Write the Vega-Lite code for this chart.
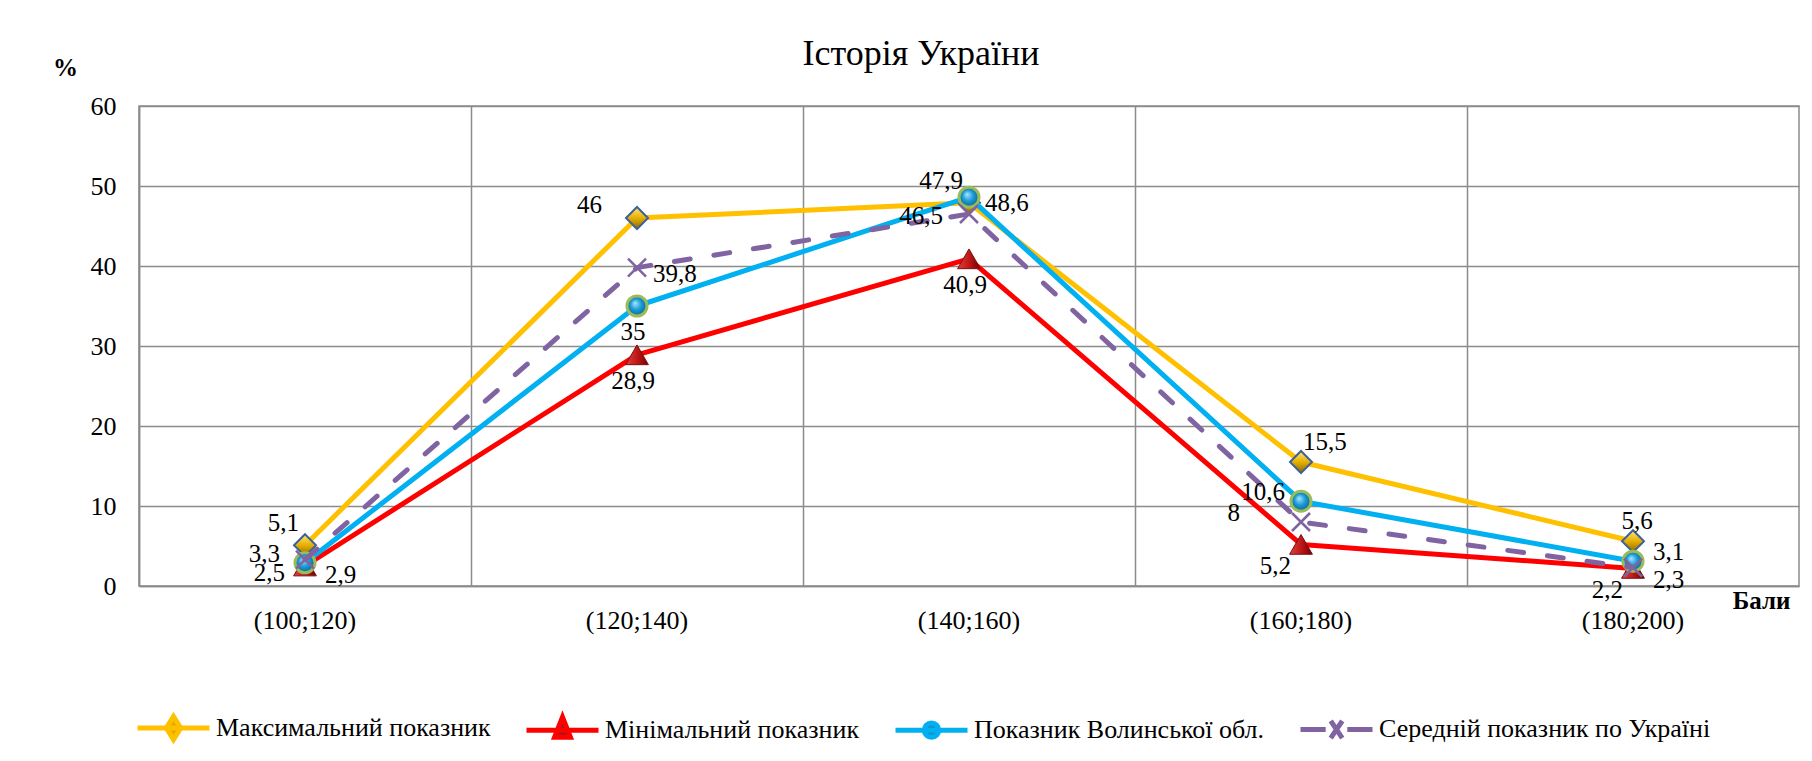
{
  "$schema": "https://vega.github.io/schema/vega-lite/v6.json",
  "width": 1660,
  "height": 480,
  "autosize": {"type": "none"},
  "padding": {"left": 139, "top": 106, "right": 13, "bottom": 175},
  "background": "white",
  "title": {"text": "Історія України", "font": "Liberation Serif", "fontSize": 36, "fontWeight": "normal", "color": "black", "anchor": "middle", "frame": "group", "dx": -48, "baseline": "alphabetic", "offset": 0, "dy": 46},
  "config": {
    "locale": {"number": {"decimal": ",", "thousands": " ", "grouping": [3], "currency": ["", ""]}},
    "view": {"stroke": "#8C8C8C", "strokeWidth": 1.5},
    "axis": {"gridColor": "#8C8C8C", "gridWidth": 1.5, "gridOpacity": 1, "domainColor": "#8C8C8C", "domainWidth": 1.5, "ticks": false, "labelColor": "black", "labelFont": "Liberation Serif", "labelFontSize": 26, "titleFont": "Liberation Serif", "titleFontSize": 25, "titleFontWeight": "bold", "titleColor": "black"},
    "legend": {"labelFont": "Liberation Serif", "labelFontSize": 26, "labelColor": "black", "labelLimit": 600}
  },
  "data": {"values": [
    {"cat": "(100;120)", "series": "Максимальний показник", "v": 5.1},
    {"cat": "(120;140)", "series": "Максимальний показник", "v": 46},
    {"cat": "(140;160)", "series": "Максимальний показник", "v": 47.9},
    {"cat": "(160;180)", "series": "Максимальний показник", "v": 15.5},
    {"cat": "(180;200)", "series": "Максимальний показник", "v": 5.6},
    {"cat": "(100;120)", "series": "Мінімальний показник", "v": 2.5},
    {"cat": "(120;140)", "series": "Мінімальний показник", "v": 28.9},
    {"cat": "(140;160)", "series": "Мінімальний показник", "v": 40.9},
    {"cat": "(160;180)", "series": "Мінімальний показник", "v": 5.2},
    {"cat": "(180;200)", "series": "Мінімальний показник", "v": 2.2},
    {"cat": "(100;120)", "series": "Показник Волинської обл.", "v": 2.9},
    {"cat": "(120;140)", "series": "Показник Волинської обл.", "v": 35},
    {"cat": "(140;160)", "series": "Показник Волинської обл.", "v": 48.6},
    {"cat": "(160;180)", "series": "Показник Волинської обл.", "v": 10.6},
    {"cat": "(180;200)", "series": "Показник Волинської обл.", "v": 3.1},
    {"cat": "(100;120)", "series": "Середній показник по Україні", "v": 3.3},
    {"cat": "(120;140)", "series": "Середній показник по Україні", "v": 39.8},
    {"cat": "(140;160)", "series": "Середній показник по Україні", "v": 46.5},
    {"cat": "(160;180)", "series": "Середній показник по Україні", "v": 8},
    {"cat": "(180;200)", "series": "Середній показник по Україні", "v": 2.3}
  ]},
  "encoding": {
    "x": {"field": "cat", "type": "nominal", "sort": null, "scale": {"type": "band", "paddingInner": 0, "paddingOuter": 0},
      "axis": {"title": "Бали", "titleAngle": 0, "titleX": 1651, "titleY": 22, "titleAlign": "right", "titleBaseline": "alphabetic", "labelAngle": 0, "labelPadding": 21, "grid": true, "bandPosition": 0}},
    "y": {"field": "v", "type": "quantitative", "scale": {"domain": [0, 60], "nice": false},
      "axis": {"title": "%", "titleAngle": 0, "titleX": -74, "titleY": -31, "titleAlign": "center", "titleBaseline": "alphabetic", "values": [0, 10, 20, 30, 40, 50, 60], "labelPadding": 23, "grid": true}}
  },
  "layer": [
    {"transform": [{"filter": "datum.series == 'Максимальний показник'"}],
     "mark": {"type": "line", "strokeWidth": 5, "strokeJoin": "round"},
     "encoding": {"color": {"field": "series", "type": "nominal", "scale": {"domain": ["Максимальний показник", "Мінімальний показник", "Показник Волинської обл.", "Середній показник по Україні"], "range": ["#FFC000", "#FF0000", "#00B0F0", "#8064A2"]},
       "legend": {"title": null, "orient": "none", "legendX": -4, "legendY": 583, "direction": "horizontal", "columnPadding": 25, "labelOffset": 4, "padding": 0, "symbolSize": 5184, "symbolStrokeWidth": 5,
         "encode": {"symbols": {"update": {
           "shape": {"signal": "['M-1,0L1,0M0,-0.32L0.2,0L0,0.32L-0.2,0Z','M-1,0L1,0M0,-0.36L0.22,0.2L-0.22,0.2Z','M-1,0L1,0M0.2,0A0.2,0.2,0,1,1,-0.2,0A0.2,0.2,0,1,1,0.2,0Z','M-1,0L-0.3,0M0.3,0L1,0M-0.16,-0.24L0.16,0.24M-0.16,0.24L0.16,-0.24'][indexof(domain('color'), datum.value)]"},
           "fill": {"signal": "['#E6A800','#A01818','#1A8FC8','transparent'][indexof(domain('color'), datum.value)]"},
           "stroke": {"signal": "['#FFC000','#C0504D','#00B0F0','#8064A2'][indexof(domain('color'), datum.value)]"},
           "strokeWidth": {"value": 5},
           "opacity": {"value": 1}
         }}}}}}},
    {"transform": [{"filter": "datum.series == 'Максимальний показник'"}],
     "mark": {"type": "point", "shape": "diamond", "size": 484, "filled": true, "opacity": 1,
       "fill": {"gradient": "linear", "x1": 0, "y1": 0, "x2": 0, "y2": 1, "stops": [{"offset": 0, "color": "#FFE680"}, {"offset": 0.5, "color": "#E6B000"}, {"offset": 1, "color": "#8C6A00"}]},
       "stroke": "#3F6296", "strokeWidth": 2}},
    {"transform": [{"filter": "datum.series == 'Мінімальний показник'"}],
     "mark": {"type": "line", "strokeWidth": 5, "strokeJoin": "round"},
     "encoding": {"color": {"field": "series", "type": "nominal", "scale": {"domain": ["Максимальний показник", "Мінімальний показник", "Показник Волинської обл.", "Середній показник по Україні"], "range": ["#FFC000", "#FF0000", "#00B0F0", "#8064A2"]}}}},
    {"transform": [{"filter": "datum.series == 'Мінімальний показник'"}],
     "mark": {"type": "point", "shape": "triangle-up", "size": 520, "filled": true, "opacity": 1,
       "fill": {"gradient": "linear", "x1": 0, "y1": 0, "x2": 1, "y2": 0, "stops": [{"offset": 0, "color": "#E04040"}, {"offset": 0.5, "color": "#C01818"}, {"offset": 1, "color": "#700000"}]},
       "stroke": "#7A1010", "strokeWidth": 1}},
    {"transform": [{"filter": "datum.series == 'Показник Волинської обл.'"}],
     "mark": {"type": "line", "strokeWidth": 5, "strokeJoin": "round"},
     "encoding": {"color": {"field": "series", "type": "nominal", "scale": {"domain": ["Максимальний показник", "Мінімальний показник", "Показник Волинської обл.", "Середній показник по Україні"], "range": ["#FFC000", "#FF0000", "#00B0F0", "#8064A2"]}}}},
    {"transform": [{"filter": "datum.series == 'Показник Волинської обл.'"}],
     "mark": {"type": "point", "shape": "circle", "size": 400, "filled": true, "opacity": 1,
       "fill": {"gradient": "radial", "x1": 0.4, "y1": 0.35, "r1": 0, "x2": 0.5, "y2": 0.5, "r2": 0.55, "stops": [{"offset": 0, "color": "#A8E8FF"}, {"offset": 0.5, "color": "#1A9AD6"}, {"offset": 1, "color": "#0B5E8A"}]},
       "stroke": "#9BBB59", "strokeWidth": 3}},
    {"transform": [{"filter": "datum.series == 'Середній показник по Україні'"}],
     "mark": {"type": "line", "strokeWidth": 5, "strokeJoin": "round", "strokeCap": "round", "strokeDash": [16, 24]},
     "encoding": {"color": {"field": "series", "type": "nominal", "scale": {"domain": ["Максимальний показник", "Мінімальний показник", "Показник Волинської обл.", "Середній показник по Україні"], "range": ["#FFC000", "#FF0000", "#00B0F0", "#8064A2"]}}}},
    {"transform": [{"filter": "datum.series == 'Середній показник по Україні'"}],
     "mark": {"type": "point", "shape": "M-1,-1L1,1M-1,1L1,-1", "size": 324, "filled": false, "opacity": 1, "stroke": "#8064A2", "strokeWidth": 2.5}},

    {"transform": [{"filter": "datum.series == 'Середній показник по Україні' && datum.cat == '(100;120)'"}],
     "mark": {"type": "text", "font": "Liberation Serif", "fontSize": 25, "color": "black", "align": "right", "baseline": "middle", "dx": -25, "dy": -6},
     "encoding": {"text": {"field": "v", "type": "quantitative", "format": ".3~g"}}},
    {"transform": [{"filter": "datum.series == 'Мінімальний показник' && datum.cat == '(100;120)'"}],
     "mark": {"type": "text", "font": "Liberation Serif", "fontSize": 25, "color": "black", "align": "right", "baseline": "middle", "dx": -20, "dy": 7},
     "encoding": {"text": {"field": "v", "type": "quantitative", "format": ".3~g"}}},
    {"transform": [{"filter": "datum.series == 'Середній показник по Україні' && datum.cat == '(140;160)'"}],
     "mark": {"type": "text", "font": "Liberation Serif", "fontSize": 25, "color": "black", "align": "right", "baseline": "middle", "dx": -26, "dy": 2},
     "encoding": {"text": {"field": "v", "type": "quantitative", "format": ".3~g"}}},
    {"transform": [{"filter": "datum.series == 'Максимальний показник' && (datum.cat == '(100;120)' || datum.cat == '(140;160)')"}],
     "mark": {"type": "text", "font": "Liberation Serif", "fontSize": 25, "color": "black", "align": "right", "baseline": "middle", "dx": -6, "dy": -22},
     "encoding": {"text": {"field": "v", "type": "quantitative", "format": ".3~g"}}},
    {"transform": [{"filter": "datum.series == 'Максимальний показник' && datum.cat == '(120;140)'"}],
     "mark": {"type": "text", "font": "Liberation Serif", "fontSize": 25, "color": "black", "align": "right", "baseline": "middle", "dx": -35, "dy": -13},
     "encoding": {"text": {"field": "v", "type": "quantitative", "format": ".3~g"}}},
    {"transform": [{"filter": "datum.series == 'Показник Волинської обл.' && datum.cat == '(160;180)'"}],
     "mark": {"type": "text", "font": "Liberation Serif", "fontSize": 25, "color": "black", "align": "right", "baseline": "middle", "dx": -16, "dy": -9},
     "encoding": {"text": {"field": "v", "type": "quantitative", "format": ".3~g"}}},
    {"transform": [{"filter": "datum.series == 'Середній показник по Україні' && datum.cat == '(160;180)'"}],
     "mark": {"type": "text", "font": "Liberation Serif", "fontSize": 25, "color": "black", "align": "right", "baseline": "middle", "dx": -61, "dy": -9},
     "encoding": {"text": {"field": "v", "type": "quantitative", "format": ".3~g"}}},
    {"transform": [{"filter": "datum.series == 'Мінімальний показник' && (datum.cat == '(160;180)' || datum.cat == '(180;200)')"}],
     "mark": {"type": "text", "font": "Liberation Serif", "fontSize": 25, "color": "black", "align": "right", "baseline": "middle", "dx": -10, "dy": 22},
     "encoding": {"text": {"field": "v", "type": "quantitative", "format": ".3~g"}}},
    {"transform": [{"filter": "(datum.series == 'Показник Волинської обл.' && datum.cat == '(100;120)') || (datum.series == 'Середній показник по Україні' && datum.cat == '(180;200)')"}],
     "mark": {"type": "text", "font": "Liberation Serif", "fontSize": 25, "color": "black", "align": "left", "baseline": "middle", "dx": 20, "dy": 12},
     "encoding": {"text": {"field": "v", "type": "quantitative", "format": ".3~g"}}},
    {"transform": [{"filter": "(datum.series == 'Середній показник по Україні' && datum.cat == '(120;140)') || (datum.series == 'Показник Волинської обл.' && datum.cat == '(140;160)')"}],
     "mark": {"type": "text", "font": "Liberation Serif", "fontSize": 25, "color": "black", "align": "left", "baseline": "middle", "dx": 16, "dy": 6},
     "encoding": {"text": {"field": "v", "type": "quantitative", "format": ".3~g"}}},
    {"transform": [{"filter": "datum.series == 'Максимальний показник' && datum.cat == '(160;180)'"}],
     "mark": {"type": "text", "font": "Liberation Serif", "fontSize": 25, "color": "black", "align": "left", "baseline": "middle", "dx": 2, "dy": -20},
     "encoding": {"text": {"field": "v", "type": "quantitative", "format": ".3~g"}}},
    {"transform": [{"filter": "datum.series == 'Показник Волинської обл.' && datum.cat == '(180;200)'"}],
     "mark": {"type": "text", "font": "Liberation Serif", "fontSize": 25, "color": "black", "align": "left", "baseline": "middle", "dx": 20, "dy": -9},
     "encoding": {"text": {"field": "v", "type": "quantitative", "format": ".3~g"}}},
    {"transform": [{"filter": "(datum.series == 'Показник Волинської обл.' && datum.cat == '(120;140)') || (datum.series == 'Мінімальний показник' && (datum.cat == '(120;140)' || datum.cat == '(140;160)'))"}],
     "mark": {"type": "text", "font": "Liberation Serif", "fontSize": 25, "color": "black", "align": "center", "baseline": "middle", "dx": -4, "dy": 26},
     "encoding": {"text": {"field": "v", "type": "quantitative", "format": ".3~g"}}},
    {"transform": [{"filter": "datum.series == 'Максимальний показник' && datum.cat == '(180;200)'"}],
     "mark": {"type": "text", "font": "Liberation Serif", "fontSize": 25, "color": "black", "align": "center", "baseline": "middle", "dx": 4, "dy": -20},
     "encoding": {"text": {"field": "v", "type": "quantitative", "format": ".3~g"}}}
  ]
}
